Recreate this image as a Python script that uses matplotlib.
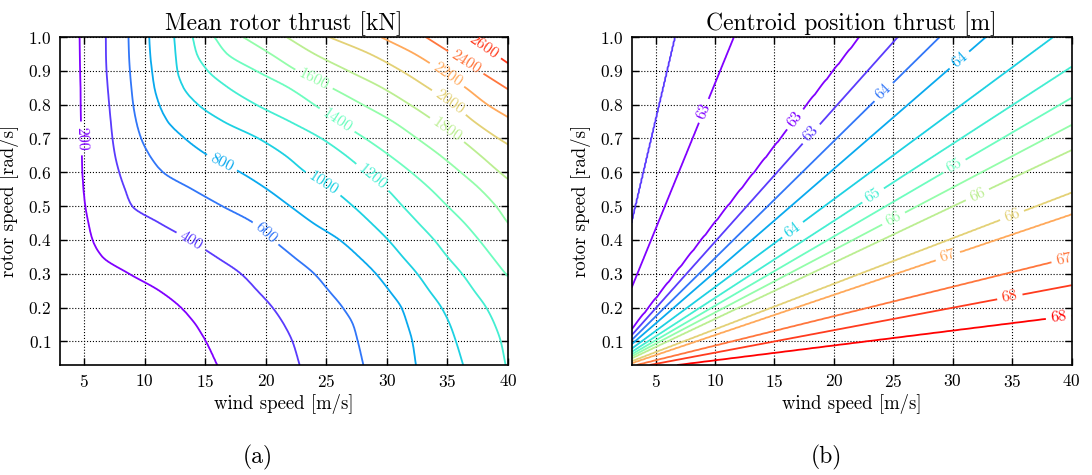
"""
Contour maps of the mean rotor thrust and of the thrust centroid
position over wind speed and rotor speed, saved as out.png.
"""

import numpy as np
import matplotlib
import matplotlib.pyplot as plt

matplotlib.use('Agg')

plt.rcParams['font.family'] = 'serif'
plt.rcParams['font.serif'] = ['cmr10']
plt.rcParams['mathtext.fontset'] = 'cm'
plt.rcParams['axes.unicode_minus'] = False
plt.rcParams['axes.formatter.use_mathtext'] = True

# rotor speeds [rad/s] at which the thrust contours were read
rotor_rows = [0.03, 0.1, 0.15, 0.2, 0.25, 0.3, 0.35, 0.4, 0.45, 0.5,
              0.55, 0.6, 0.65, 0.7, 0.75, 0.8, 0.85, 0.9, 0.95, 1.0]

thrust_levels = [200, 400, 600, 800, 1000, 1200, 1400,
                 1600, 1800, 2000, 2200, 2400, 2600, 2800]

# wind speed [m/s] where each thrust level is reached, one value per rotor row
w200 = [16.0, 15.06, 14.2, 13.0, 11.2, 8.7, 6.5, 5.69, 5.35, 5.1,
        4.95, 4.86, 4.82, 4.78, 4.75, 4.72, 4.7, 4.68, 4.66, 4.64]
w400 = [22.8, 22.2, 21.5, 20.56, 19.3, 17.95, 15.9, 13.7, 11.2, 8.95,
        8.36, 7.89, 7.55, 7.34, 7.2, 7.07, 6.95, 6.85, 6.8, 6.79]
w600 = [28.06, 27.6, 27.2, 26.35, 25.2, 24.0, 22.3, 20.6, 19.0, 16.4,
        13.9, 11.5, 10.4, 9.7, 9.3, 9.05, 8.9, 8.78, 8.7, 8.66]
w800 = [32.4, 32.1, 31.7, 31.2, 30.2, 29.1, 27.7, 26.1, 23.9, 22.0,
        20.1, 17.9, 15.2, 13.3, 11.9, 11.2, 10.8, 10.6, 10.45, 10.37]
w1000 = [36.3, 35.7, 35.2, 34.5, 33.5, 32.5, 31.3, 30.1, 28.7, 27.2,
         25.5, 23.3, 21.6, 19.4, 16.5, 14.4, 13.2, 12.7, 12.55, 12.44]
w1200 = [39.8, 39.4, 38.9, 38.2, 37.2, 36.2, 35.0, 33.9, 32.6, 31.3,
         30.0, 28.3, 26.6, 24.6, 22.0, 19.2, 16.9, 15.2, 14.3, 13.95]
w1400 = [43.5, 43.1, 42.6, 41.9, 41.0, 39.8, 38.7, 37.6, 36.4, 35.0,
         33.6, 32.0, 30.2, 28.2, 26.0, 24.0, 21.9, 19.2, 16.8, 15.74]
w1600 = [47.0, 46.6, 46.0, 45.2, 44.3, 43.3, 42.3, 41.2, 40.0, 39.0,
         37.7, 36.1, 34.4, 32.5, 30.5, 28.0, 25.4, 22.6, 20.4, 18.1]
w1800 = [53.6, 53.0, 52.2, 51.2, 50.0, 48.6, 47.2, 45.8, 44.2, 42.6,
         41.0, 39.3, 37.7, 36.0, 34.0, 31.9, 29.6, 26.8, 24.0, 21.7]
w2000 = [61.0, 60.0, 59.0, 58.0, 56.5, 55.0, 53.5, 51.5, 49.5, 47.5,
         45.5, 43.5, 41.5, 39.2, 37.2, 35.5, 33.4, 31.2, 28.6, 25.2]
w2200 = [67.5, 66.3, 65.0, 63.5, 61.8, 60.0, 58.0, 56.0, 53.8, 51.6,
         49.4, 47.2, 45.0, 42.8, 40.6, 38.3, 36.5, 34.5, 32.3, 29.5]
w2400 = [74.0, 72.7, 71.2, 69.5, 67.6, 65.5, 63.3, 61.0, 58.6, 56.2,
         53.8, 51.4, 49.0, 46.6, 44.3, 42.0, 39.8, 37.6, 35.4, 33.2]
w2600 = [79.0, 77.4, 75.7, 73.8, 71.7, 69.4, 67.0, 64.5, 62.0, 59.5,
         57.0, 54.5, 52.0, 49.5, 47.2, 45.0, 42.9, 40.9, 38.9, 36.9]
w2800 = [83.0, 81.4, 79.6, 77.6, 75.4, 73.0, 70.5, 68.0, 65.5, 63.0,
         60.5, 58.0, 55.5, 53.0, 50.5, 48.2, 46.0, 43.8, 41.7, 39.7]

thrust_label_spots = [(4.75, 0.70), (13.9, 0.40), (20.0, 0.42), (16.4, 0.63),
                      (24.8, 0.57), (28.8, 0.585), (25.9, 0.755), (23.9, 0.87),
                      (35.0, 0.727), (35.2, 0.81), (35.0, 0.89), (36.6, 0.93),
                      (37.8, 0.96)]

# centroid position [m] against rotor speed / wind speed ratio
centroid_levels = [62.8, 63.2, 63.6, 64.0, 64.4, 64.8, 65.2,
                   65.6, 66.0, 66.4, 66.8, 67.2, 67.6, 68.0]
centroid_ratio = [0.0, 0.0044, 0.00665, 0.0087, 0.0119, 0.01348, 0.01665,
                  0.0185, 0.0205, 0.0228, 0.026, 0.0305, 0.0346, 0.0394,
                  0.0451, 0.065, 0.0862, 0.15, 0.4]
centroid_value = [68.6, 68.0, 67.6, 67.2, 66.8, 66.4, 66.0,
                  65.6, 65.2, 64.8, 64.4, 64.0, 63.6, 63.2,
                  62.8, 62.6, 62.8, 63.2, 63.4]

centroid_label_spots = [(9.16, 0.78), (16.8, 0.755), (18.2, 0.71), (24.25, 0.835),
                        (30.6, 0.93), (16.67, 0.424), (23.27, 0.533), (30.0, 0.627),
                        (24.95, 0.468), (32.0, 0.538), (34.9, 0.478), (29.6, 0.35),
                        (39.3, 0.35), (34.8, 0.231), (38.9, 0.172)]


def pchip(x_new, x, y):
    """Shape-preserving cubic through the read points (Fritsch-Carlson)."""
    x = np.asarray(x, float)
    y = np.asarray(y, float)
    h = np.diff(x)
    delta = np.diff(y) / h
    slopes = np.zeros_like(y)
    for k in range(1, len(y) - 1):
        if delta[k - 1] * delta[k] > 0:
            w1 = 2 * h[k] + h[k - 1]
            w2 = h[k] + 2 * h[k - 1]
            slopes[k] = (w1 + w2) / (w1 / delta[k - 1] + w2 / delta[k])
    slopes[0] = delta[0]
    slopes[-1] = delta[-1]
    idx = np.clip(np.searchsorted(x, x_new) - 1, 0, len(h) - 1)
    t = (x_new - x[idx]) / h[idx]
    h00 = 2 * t**3 - 3 * t**2 + 1
    h10 = t**3 - 2 * t**2 + t
    h01 = -2 * t**3 + 3 * t**2
    h11 = t**3 - t**2
    return (h00 * y[idx] + h10 * h[idx] * slopes[idx]
            + h01 * y[idx + 1] + h11 * h[idx] * slopes[idx + 1])


def build_thrust_field(wind, rotor):
    """
    Rebuilds the thrust map from the read contour crossings: each level's
    crossing is followed smoothly along the rotor axis, then every row is
    filled in between neighbouring levels.
    """
    crossings = [w200, w400, w600, w800, w1000, w1200, w1400,
                 w1600, w1800, w2000, w2200, w2400, w2600, w2800]
    paths = np.array([pchip(rotor, rotor_rows, c) for c in crossings])
    field = []
    for j in range(len(rotor)):
        xp = np.concatenate(([0.0], paths[:, j]))
        fp = [0.0] + thrust_levels
        field.append(np.interp(wind, xp, fp))
    return np.array(field)


def style_axes(ax, title):
    """Classic look: inner ticks on all sides, dotted grid."""
    ax.set_title(title, fontsize=17, pad=5)
    ax.set_xlabel('wind speed [m/s]', fontsize=13.5, labelpad=3)
    ax.set_ylabel('rotor speed [rad/s]', fontsize=13.5, labelpad=6)
    ax.set_xlim(3, 40)
    ax.set_ylim(0.03, 1.0)
    ax.set_xticks([5, 10, 15, 20, 25, 30, 35, 40])
    ax.set_yticks([0.1, 0.2, 0.3, 0.4, 0.5, 0.6, 0.7, 0.8, 0.9, 1.0])
    ax.tick_params(direction='in', top=True, right=True, labelsize=12.5,
                   length=5, width=1, pad=6)
    ax.grid(True, linestyle=':', color='k', linewidth=0.8)
    for spine in ax.spines.values():
        spine.set_linewidth(1.2)


def plot_maps():
    fig = plt.figure(figsize=(10.92, 4.75), dpi=100)
    ax1 = fig.add_axes([0.0549, 0.2316, 0.4103, 0.6905])
    ax2 = fig.add_axes([0.5785, 0.2316, 0.4029, 0.6905])

    wind = np.linspace(3, 40, 371)
    rotor = np.linspace(0.03, 1.0, 195)

    thrust = build_thrust_field(wind, rotor)
    cs1 = ax1.contour(wind, rotor, thrust, levels=thrust_levels,
                      cmap='rainbow', linewidths=1.3)
    ax1.clabel(cs1, fmt='%1.0f', fontsize=11.5, inline=True,
               manual=thrust_label_spots)
    style_axes(ax1, 'Mean rotor thrust [kN]')

    ww, rr = np.meshgrid(wind, rotor)
    centroid = np.interp(rr / ww, centroid_ratio, centroid_value)
    cs2 = ax2.contour(ww, rr, centroid, levels=centroid_levels,
                      cmap='rainbow', linewidths=1.3)
    ax2.clabel(cs2, fmt='%1.0f', fontsize=11.5, inline=True,
               manual=centroid_label_spots)
    style_axes(ax2, 'Centroid position thrust [m]')

    fig.text(0.2363, 0.025, '(a)', ha='center', fontsize=17)
    fig.text(0.7564, 0.025, '(b)', ha='center', fontsize=17)

    fig.savefig('out.png', dpi=100)


if __name__ == "__main__":
    plot_maps()
